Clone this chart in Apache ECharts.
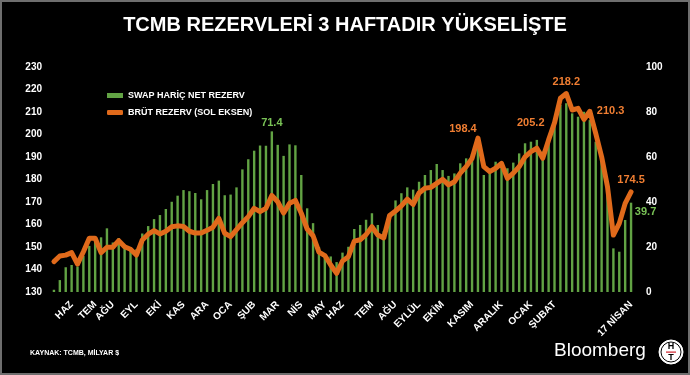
<!DOCTYPE html>
<html>
<head>
<meta charset="utf-8">
<script src="https://cdn.jsdelivr.net/npm/echarts@6/dist/echarts.min.js"></script>
<style>
html,body{margin:0;padding:0;background:#000;}
#c{width:690px;height:375px;}
</style>
</head>
<body>
<div id="c"></div>
<script>
// Weekly category labels (month markers, empty for other weeks)
const weekLabels = [
 '', '', '', 'HAZ', '', '', '', 'TEM', '', '', 'AĞU', '', '', '', 'EYL', '', '', '', 'EKİ', '', '',
 '', 'KAS', '', '', '', 'ARA', '', '', '', 'OCA', '', '', '', 'ŞUB', '', '', '', 'MAR', '', '',
 '', 'NİS', '', '', '', 'MAY', '', '', 'HAZ', '', '', '', '', 'TEM', '', '', '', 'AĞU', '', '',
 '', 'EYLÜL', '', '', '', 'EKİM', '', '', '', '', 'KASIM', '', '', '', '', 'ARALIK', '', '', '', '',
 'OCAK', '', '', '', 'ŞUBAT', '', '', '', '', '', '', '', '', '', '', '', '', '17 NİSAN'
];
// Swap hariç net rezerv (right axis, billion $)
const netReserve = [
 1, 5.3, 11, 12, 11.3, 16, 20.5, 24, 24.3, 28.3,
 22, 24, 21, 20, 19, 26, 29.3, 32.4, 34.2, 36.9,
 40.1, 42.8, 45.3, 44.8, 44, 41.2, 45.3, 48, 49.5, 43,
 43.3, 46.5, 54.5, 59, 62.8, 65.1, 65, 71.4, 65.4, 60.5,
 65.6, 65.2, 52, 37.2, 30.6, 20, 16.8, 15.8, 13.3, 17.5,
 20.1, 28, 29.8, 32.1, 35, 29.8, 27, 34.8, 40.7, 43.9,
 46.5, 45.5, 49, 52, 54.2, 56.9, 54.2, 51.6, 52.7, 57.2,
 59.4, 61.3, 63.9, 52, 53.5, 57.9, 57.2, 55, 57.5, 61.6,
 66.1, 66.8, 67.6, 62.4, 68.3, 75.7, 83.1, 83.9, 79.4, 77.9,
 80.1, 76.4, 66.8, 58.7, 48.3, 19.4, 17.9, 32, 39.7
];
// Brüt rezerv (left axis, billion $)
const grossReserve = [
 143.5, 146, 146.4, 147.5, 142.4, 147.9, 153.9, 153.9, 147.5, 149.9,
 149.9, 152.8, 150.1, 149, 146.4, 153.1, 155.7, 157.3, 155.8, 157,
 159, 159.4, 159.1, 157, 156.2, 156.2, 157.4, 158.8, 162.7, 156.1,
 154.6, 157.7, 160.8, 163.5, 167.2, 165.7, 167.2, 172.9, 170.1, 165.1,
 169.4, 170.7, 165, 158, 155, 147.7, 146.2, 142, 138.3, 143.8,
 145.7, 152.6, 153.2, 155.5, 159, 155.3, 154, 164, 166, 168.3,
 171.3, 168.9, 174, 176.1, 176.5, 178.3, 180.1, 177.6, 179, 182.8,
 185.7, 189.4, 198.4, 185.7, 183.5, 185, 187.2, 180.5, 182.8, 185.7,
 190.1, 192.4, 193.9, 189.4, 197.6, 205.2, 216.1, 218.2, 210.9, 211.6,
 206.7, 210.3, 200.5, 190.1, 176.8, 155.3, 160.5, 169.4, 174.5
];
const leftTicks = [130, 230, 10];
const rightTicks = [0, 100, 20];
const seriesNames = ['SWAP HARİÇ NET REZERV', 'BRÜT REZERV (SOL EKSEN)'];
// annotated points: index -> label placement
const grossAnnot = {72: 'tl', 85: 'left', 87: 'top', 91: 'right', 98: 'top'};
const netAnnot = {37: 'top', 98: 'side'};

const GREEN = '#62a344';
const GREEN_TXT = '#79c256';
const ORANGE = '#e06a1b';
const ORANGE_TXT = '#f07e32';
const FONT = '"Liberation Sans", Arial, sans-serif';

function grossLabel(pos) {
  const base = {show: true, color: ORANGE_TXT, fontFamily: FONT, fontWeight: 'bold', fontSize: 11};
  if (pos === 'tl') return Object.assign(base, {position: 'top', offset: [-15, 0], distance: 3});
  if (pos === 'left') return Object.assign(base, {position: 'left', distance: 9});
  if (pos === 'right') return Object.assign(base, {position: 'right', distance: 6});
  if (pos === 'top') return Object.assign(base, {position: 'top', distance: 5});
  return base;
}
function netLabel(pos) {
  const base = {show: true, color: GREEN_TXT, fontFamily: FONT, fontWeight: 'bold', fontSize: 11};
  if (pos === 'side') return Object.assign(base, {position: [5, 4]});
  return Object.assign(base, {position: 'top', distance: 3});
}

const lineData = grossReserve.map((v, i) => grossAnnot[i] ? {value: v, label: grossLabel(grossAnnot[i])} : v);
const barData = netReserve.map((v, i) => netAnnot[i] ? {value: v, label: netLabel(netAnnot[i])} : v);

const chart = echarts.init(document.getElementById('c'), null, {renderer: 'canvas'});
chart.setOption({
  backgroundColor: '#000',
  animation: false,
  title: {
    text: 'TCMB REZERVLERİ 3 HAFTADIR YÜKSELİŞTE',
    left: 'center', top: 10,
    textStyle: {color: '#fff', fontFamily: FONT, fontWeight: 'bold', fontSize: 20}
  },
  legend: {
    orient: 'vertical', left: 102, top: 86, itemGap: 8,
    itemWidth: 16, itemHeight: 5,
    textStyle: {color: '#fff', fontFamily: FONT, fontWeight: 'bold', fontSize: 9},
    data: [
      {name: seriesNames[0], icon: 'rect', itemStyle: {color: GREEN}},
      {name: seriesNames[1], icon: 'roundRect', itemStyle: {color: ORANGE}}
    ]
  },
  grid: {left: 51, right: 56, top: 67, bottom: 83},
  xAxis: {
    type: 'category', data: weekLabels, boundaryGap: true,
    axisLine: {show: false}, axisTick: {show: false},
    axisLabel: {interval: 0, rotate: 45, margin: 11, color: '#fff', fontFamily: FONT, fontWeight: 'bold', fontSize: 10}
  },
  yAxis: [
    {type: 'value', position: 'left', min: leftTicks[0], max: leftTicks[1], interval: leftTicks[2],
     splitLine: {show: false}, axisLine: {show: false}, axisTick: {show: false},
     axisLabel: {margin: 9, color: '#fff', fontFamily: FONT, fontWeight: 'bold', fontSize: 10}},
    {type: 'value', position: 'right', min: rightTicks[0], max: rightTicks[1], interval: rightTicks[2],
     splitLine: {show: false}, axisLine: {show: false}, axisTick: {show: false},
     axisLabel: {margin: 12, color: '#fff', fontFamily: FONT, fontWeight: 'bold', fontSize: 10}}
  ],
  series: [
    {name: seriesNames[0], type: 'bar', yAxisIndex: 1, barWidth: 2.4,
     itemStyle: {color: GREEN}, data: barData, z: 2},
    {name: seriesNames[1], type: 'line', yAxisIndex: 0, symbol: 'circle', symbolSize: 2, showSymbol: true,
     smooth: false,
     lineStyle: {color: ORANGE, width: 5, join: 'round', cap: 'round'},
     itemStyle: {color: ORANGE}, data: lineData, z: 3}
  ],
  graphic: [
    {type: 'rect', shape: {x: 1, y: 1, width: 688, height: 373}, style: {fill: 'none', stroke: '#6e6e6e', lineWidth: 2}, silent: true},
    {type: 'text', left: 30, top: 350, style: {text: 'KAYNAK: TCMB, MİLYAR $', fill: '#fff', font: 'bold 7px ' + FONT}},
    {type: 'text', left: 554, top: 341, style: {text: 'Bloomberg', fill: '#fff', font: '19px ' + FONT}},
    {type: 'circle', shape: {cx: 671, cy: 352, r: 12}, style: {fill: '#fff', stroke: '#fff'}},
    {type: 'circle', shape: {cx: 671, cy: 352, r: 10}, style: {fill: '#fff', stroke: '#000', lineWidth: 1}},
    {type: 'text', x: 671, y: 347, style: {text: 'H', fill: '#000', font: 'bold 9px ' + FONT, align: 'center', verticalAlign: 'middle'}},
    {type: 'rect', shape: {x: 666, y: 351.5, width: 10, height: 1.2}, style: {fill: '#d0202a'}},
    {type: 'text', x: 671, y: 357.5, style: {text: 'T', fill: '#000', font: 'bold 9px ' + FONT, align: 'center', verticalAlign: 'middle'}}
  ]
});
</script>
</body>
</html>
